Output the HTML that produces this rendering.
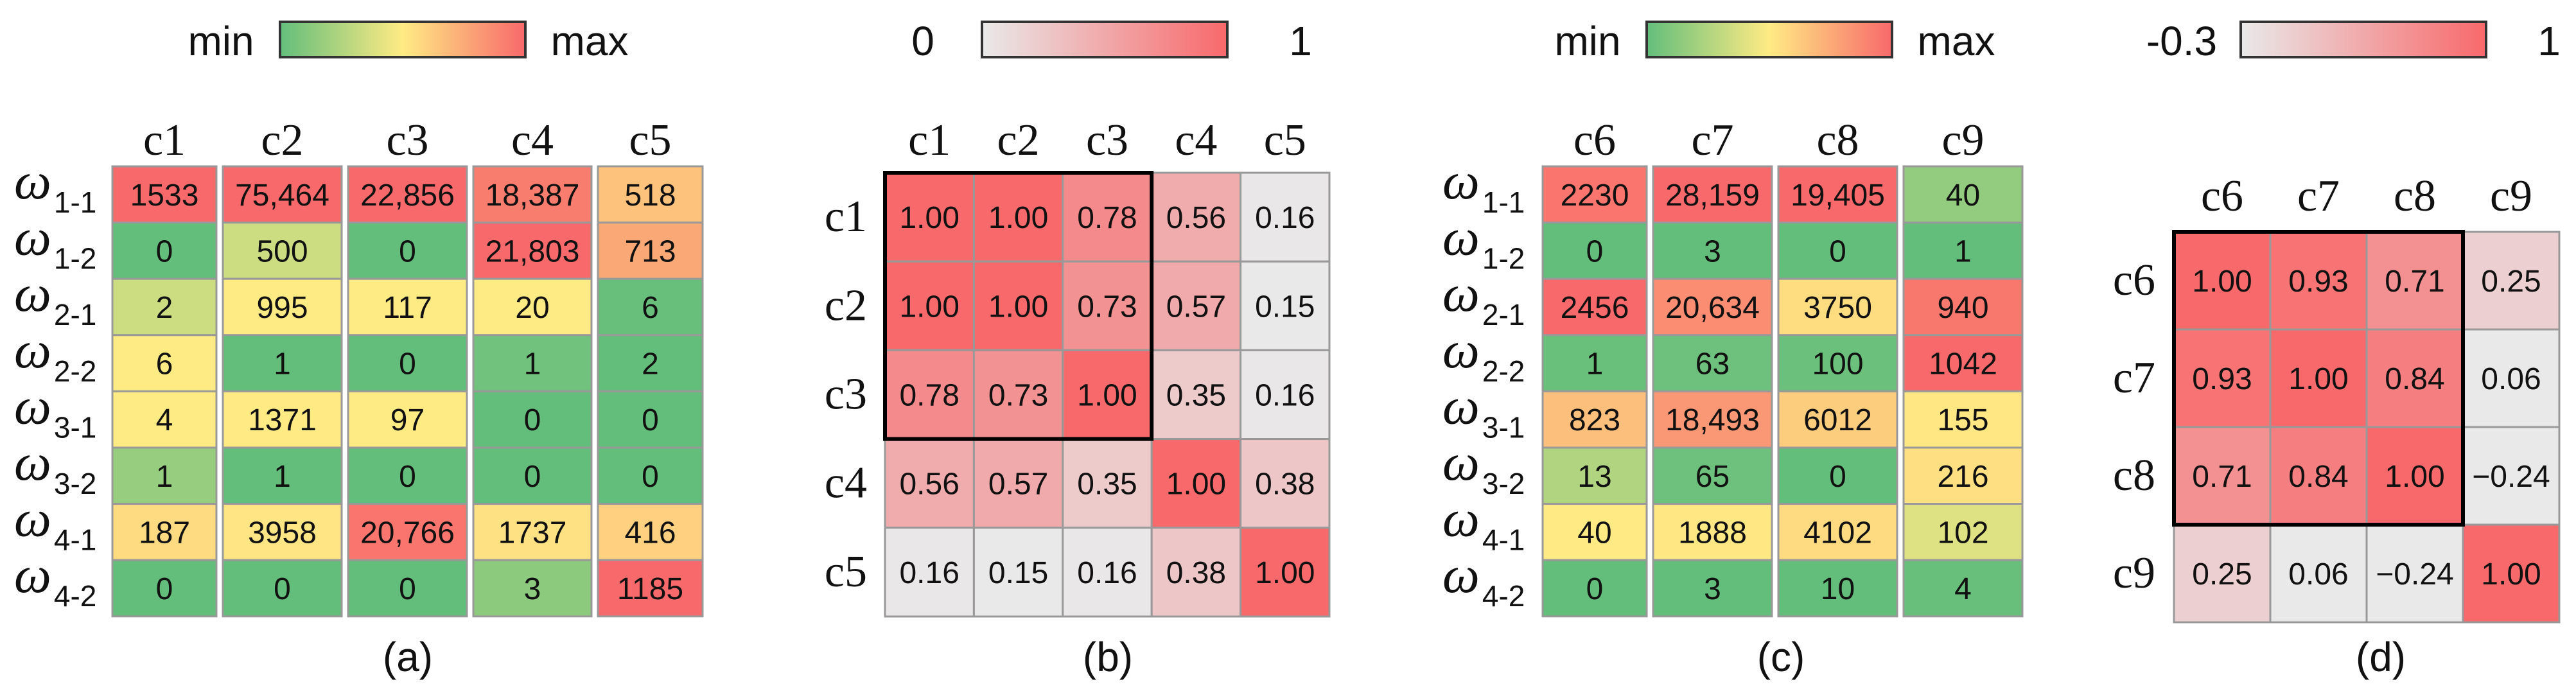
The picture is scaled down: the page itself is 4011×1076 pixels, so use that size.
<!DOCTYPE html>
<html><head><meta charset="utf-8"><style>
html,body{margin:0;padding:0;background:#fff;}
svg{display:block;}
</style></head><body>
<svg id="fig" xmlns="http://www.w3.org/2000/svg" width="4011" height="1076" viewBox="0 0 4011 1076">
<defs>
<linearGradient id="gyr" x1="0" x2="1" y1="0" y2="0"><stop offset="0" stop-color="#63BE7B"/><stop offset="0.5" stop-color="#FFEB84"/><stop offset="1" stop-color="#F8696B"/></linearGradient>
<linearGradient id="gr" x1="0" x2="1" y1="0" y2="0"><stop offset="0" stop-color="#E9E9E9"/><stop offset="1" stop-color="#F8696B"/></linearGradient>
</defs>
</svg>
<script>
const rowsW = ["1-1","1-2","2-1","2-2","3-1","3-2","4-1","4-2"];
const colsA = ["c1","c2","c3","c4","c5"];
const valsA = [
 [1533,0,2,6,4,1,187,0],
 [75464,500,995,1,1371,1,3958,0],
 [22856,0,117,0,97,0,20766,0],
 [18387,21803,20,1,0,0,1737,3],
 [518,713,6,2,0,0,416,1185]
];
const colsC = ["c6","c7","c8","c9"];
const valsC = [
 [2230,0,2456,1,823,13,40,0],
 [28159,3,20634,63,18493,65,1888,3],
 [19405,0,3750,100,6012,0,4102,10],
 [40,1,940,1042,155,216,102,4]
];
const corrLabelsB = ["c1","c2","c3","c4","c5"];
const corrB = [
 [1.00,1.00,0.78,0.56,0.16],
 [1.00,1.00,0.73,0.57,0.15],
 [0.78,0.73,1.00,0.35,0.16],
 [0.56,0.57,0.35,1.00,0.38],
 [0.16,0.15,0.16,0.38,1.00]
];
const corrLabelsD = ["c6","c7","c8","c9"];
const corrD = [
 [1.00,0.93,0.71,0.25],
 [0.93,1.00,0.84,0.06],
 [0.71,0.84,1.00,-0.24],
 [0.25,0.06,-0.24,1.00]
];
const legendA = ["min","max"];
const legendB = ["0","1"];
const legendD = ["-0.3","1"];
const captions = ["(a)","(b)","(c)","(d)"];

const NS="http://www.w3.org/2000/svg";
const svg=document.getElementById('fig');
function mk(tag,attrs,parent,txt){const e=document.createElementNS(NS,tag);for(const k in attrs)e.setAttribute(k,attrs[k]);if(txt!==undefined)e.textContent=txt;(parent||svg).appendChild(e);return e;}
function hex(c){return [parseInt(c.slice(1,3),16),parseInt(c.slice(3,5),16),parseInt(c.slice(5,7),16)];}
function mix(a,b,t){t=Math.max(0,Math.min(1,t));const A=hex(a),B=hex(b);return 'rgb('+A.map((v,i)=>Math.round(v+(B[i]-v)*t)).join(',')+')';}
function pct(arr,p){const s=[...arr].sort((a,b)=>a-b);const r=p*(s.length-1);const lo=Math.floor(r),hi=Math.ceil(r);return s[lo]+(s[hi]-s[lo])*(r-lo);}
function scale3(v,arr){const mn=Math.min(...arr),mx=Math.max(...arr),md=pct(arr,0.5);
 if(v<=md){return md===mn?'#FFEB84':mix('#63BE7B','#FFEB84',(v-mn)/(md-mn));}
 return mx===md?'#FFEB84':mix('#FFEB84','#F8696B',(v-md)/(mx-md));}
function fmt(v){return v>=10000?v.toLocaleString('en-US'):String(v);}
function fmtC(v){return v<0?'\u2212'+Math.abs(v).toFixed(2):v.toFixed(2);}
const SANS='"Liberation Sans", sans-serif', SERIF='"Liberation Serif", serif';

function colorbar(g,x,y,w,h,grad,labels,lx0,lx1){
 const r=mk('rect',{x:x,y:y,width:w,height:h,fill:'url(#'+grad+')',stroke:'#333','stroke-width':4},g);
 
 
 const t0=mk('text',{x:lx0,y:y+52,'font-family':SANS,'font-size':64,'text-anchor':'middle',fill:'#111'},g,labels[0]);
 
 
 const t1=mk('text',{x:lx1,y:y+52,'font-family':SANS,'font-size':64,'text-anchor':'middle',fill:'#111'},g,labels[1]);
 
 
}
function caption(g,x,txt){const t=mk('text',{x:x,y:1045,'font-family':SANS,'font-size':64,'text-anchor':'middle',fill:'#111'},g,txt);
 
 }

function countPanel(name,cols,vals,x0,widths,labelX,cbx,capX){
 const g=mk('g',{});
 
 
 colorbar(g,cbx,34,382,55,'gyr',legendA,cbx-92,cbx+482);
 const y0=259,rh=87.6,gap=10;
 let x=x0;
 cols.forEach((c,ci)=>{
  const w=widths[ci];
  const h=mk('text',{x:x+w/2,y:241,'font-family':SERIF,'font-size':70,'text-anchor':'middle',fill:'#111'},g,c);
  
  
  vals[ci].forEach((v,ri)=>{
   const r=mk('rect',{x:x,y:y0+ri*rh,width:w,height:rh,fill:scale3(v,vals[ci]),stroke:'#999','stroke-width':3},g);
   
   
   const t=mk('text',{x:x+w/2,y:y0+ri*rh+rh/2+17,'font-family':SANS,'font-size':48,'text-anchor':'middle',fill:'#111'},g,fmt(v));
   
   
  });
  x+=w+gap;
 });
 rowsW.forEach((rw,ri)=>{
  const t=mk('text',{x:labelX,y:y0+ri*rh+50,'font-family':SERIF,'font-size':82,'font-style':'italic',fill:'#111'},g);
  
  
  mk('tspan',{},t,'\u03C9');
  mk('tspan',{dx:4,dy:22,'font-family':SANS,'font-style':'normal','font-size':46},t,rw);
 });
 caption(g,capX,name==='panel-a'?captions[0]:captions[2]);
}
function corrPanel(name,labels,vals,x0,y0,cw,ch,hdrY,rowLabelX,cbx,leg,capX,cap,boxN){
 const g=mk('g',{});
 
 
 colorbar(g,cbx,34,382,55,'gr',leg,cbx-92,cbx+(leg[0].length>1?480:496));
 const flat=vals.flat();const nonneg=flat.filter(v=>v>=0);const lo=Math.min(...nonneg),hi=Math.max(...flat);
 labels.forEach((c,ci)=>{
  const h=mk('text',{x:x0+ci*cw+cw/2,y:hdrY,'font-family':SERIF,'font-size':70,'text-anchor':'middle',fill:'#111'},g,c);
  
  
  const rl=mk('text',{x:rowLabelX,y:y0+ci*ch+ch/2+22,'font-family':SERIF,'font-size':70,'text-anchor':'end',fill:'#111'},g,c);
  
  
 });
 vals.forEach((row,ri)=>row.forEach((v,ci)=>{
  const r=mk('rect',{x:x0+ci*cw,y:y0+ri*ch,width:cw,height:ch,fill:mix('#E9E9E9','#F8696B',(v-lo)/(hi-lo)),stroke:'#999','stroke-width':3},g);
  
  
  const t=mk('text',{x:x0+ci*cw+cw/2,y:y0+ri*ch+ch/2+17,'font-family':SANS,'font-size':48,'text-anchor':'middle',fill:'#111'},g,fmtC(v));
  
  
 }));
 const b=mk('rect',{x:x0,y:y0,width:cw*boxN,height:ch*boxN,fill:'none',stroke:'#000','stroke-width':6},g);
 
 
 caption(g,capX,cap);
}
countPanel('panel-a',colsA,valsA,175,[162,185,185,184,163],22,436,635);
corrPanel('panel-b',corrLabelsB,corrB,1378,269,138.4,138.2,241,1350,1529,legendB,1725,captions[1],3);
countPanel('panel-c',colsC,valsC,2402,[162,185,185,185],2246,2564,2773);
corrPanel('panel-d',corrLabelsD,corrD,3385,361,150,152,328,3356,3489,legendD,3707,captions[3],3);
</script>
</body></html>
